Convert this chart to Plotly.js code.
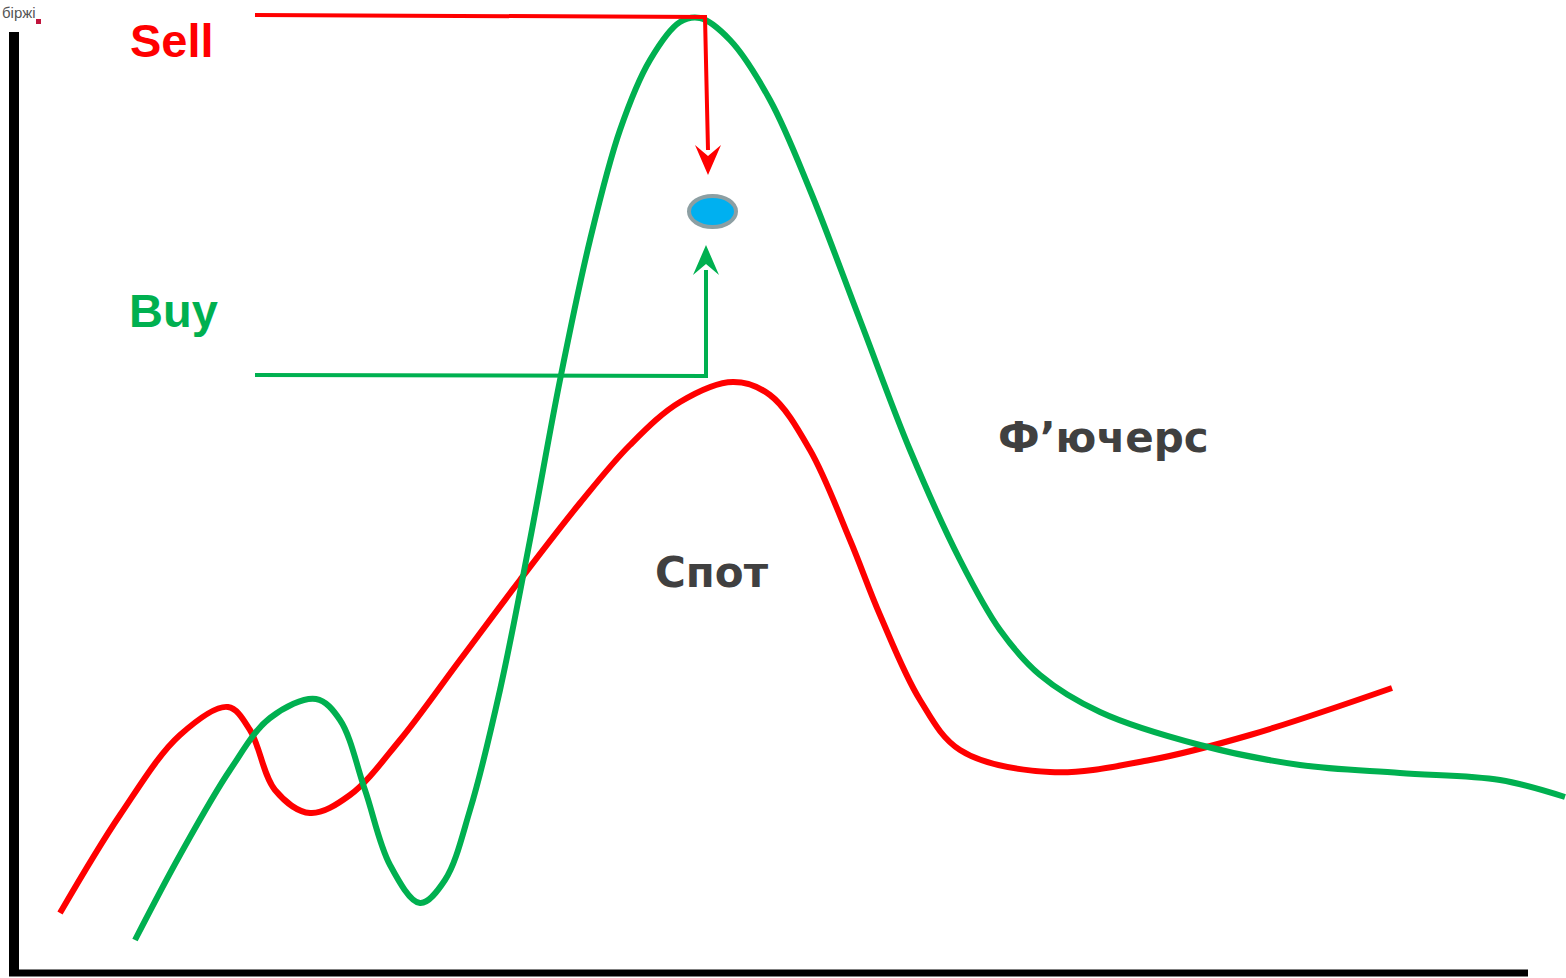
<!DOCTYPE html>
<html><head><meta charset="utf-8">
<script src="https://cdn.plot.ly/plotly-3.0.1.min.js"></script>
<style>html,body{margin:0;padding:0;background:#fff}#c{width:1566px;height:978px}</style>
</head><body><div id="c"></div>
<script>
// Spot (red) curve
const spotX = [60,120,180,228,250,275,310,350,400,460,520,580,630,680,733,770,810,850,880,920,960,1050,1150,1250,1392];
const spotY = [913,815,735,707,730,790,813,795,740,660,580,503,445,402,382,395,450,540,615,700,750,772,760,735,688];
// Futures (green) curve
const futX = [135,180,230,270,316,340,365,390,420,445,470,500,530,560,590,620,650,680,700,730,770,810,860,910,960,1000,1040,1100,1200,1300,1400,1500,1565];
const futY = [940,855,770,718,699,720,790,865,903,880,810,690,540,380,240,130,60,22,18,40,100,190,320,450,560,630,675,712,745,765,773,780,797];
// Sell / Buy guide lines
const sellX = [255,705,708];
const sellY = [15,17,150];
const buyX = [255,706,706];
const buyY = [375,376,270];
const labels = ["Sell","Buy","Ф’ючерс","Спот"];

const traces = [
 {x:spotX,y:spotY,mode:'lines',line:{color:'#ff0000',width:6,shape:'spline',smoothing:1},hoverinfo:'skip'},
 {x:futX,y:futY,mode:'lines',line:{color:'#00b050',width:6,shape:'spline',smoothing:1},hoverinfo:'skip'},
 {x:sellX,y:sellY,mode:'lines',line:{color:'#ff0000',width:4},hoverinfo:'skip'},
 {x:buyX,y:buyY,mode:'lines',line:{color:'#00b050',width:4},hoverinfo:'skip'}
];

const shapes = [
 {type:'line',x0:14,x1:14,y0:32,y1:975,line:{color:'#000',width:10}},
 {type:'line',x0:9,x1:1528,y0:973,y1:973,line:{color:'#000',width:7}},
 {type:'path',path:`M ${sellX[2]-13},${sellY[2]-5} L ${sellX[2]},${sellY[2]+25} L ${sellX[2]+13},${sellY[2]-5} L ${sellX[2]},${sellY[2]+6} Z`,fillcolor:'#ff0000',line:{width:0}},
 {type:'path',path:`M ${buyX[2]-13},${buyY[2]+5} L ${buyX[2]},${buyY[2]-25} L ${buyX[2]+13},${buyY[2]+5} L ${buyX[2]},${buyY[2]-6} Z`,fillcolor:'#00b050',line:{width:0}},
 {type:'circle',x0:689,x1:736,y0:196,y1:227,fillcolor:'#00b0f0',line:{color:'#8c9fa3',width:4}},
 {type:'rect',x0:36,x1:41,y0:19,y1:24,fillcolor:'#c0143c',line:{width:0}}
];

const ann = [
 {x:172,y:40,text:'<b>'+labels[0]+'</b>',font:{family:'Liberation Sans, Arial',size:47,color:'#ff0000'}},
 {x:173,y:310,text:'<b>'+labels[1]+'</b>',font:{family:'Liberation Sans, Arial',size:47,color:'#00b050'}},
 {x:1103,y:437,text:'<b>'+labels[2]+'</b>',font:{family:'DejaVu Sans',size:42,color:'#404040'}},
 {x:712,y:572,text:'<b>'+labels[3]+'</b>',font:{family:'DejaVu Sans',size:42,color:'#404040'}},
 {x:0,y:12,xanchor:'left',text:'біржі',font:{family:'Liberation Sans, Arial',size:15,color:'#555'}}
].map(a=>Object.assign({showarrow:false,xref:'x',yref:'y'},a));

const layout = {
 width:1566,height:978,margin:{l:0,r:0,t:0,b:0},
 paper_bgcolor:'#fff',plot_bgcolor:'#fff',showlegend:false,
 xaxis:{range:[0,1566],visible:false,fixedrange:true},
 yaxis:{range:[978,0],visible:false,fixedrange:true},
 shapes:shapes,annotations:ann
};
Plotly.newPlot('c',traces,layout,{displayModeBar:false,staticPlot:true});
</script></body></html>
